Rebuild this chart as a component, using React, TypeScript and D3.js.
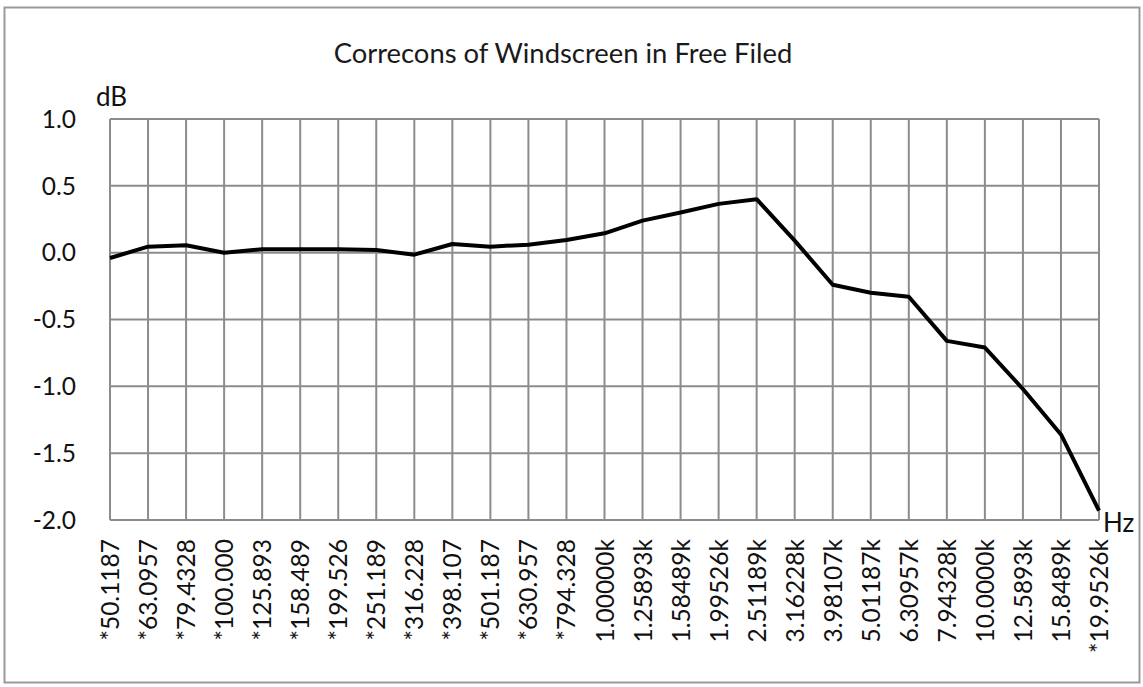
import { useEffect, useRef } from 'react';
import * as d3 from 'd3';

const frequencies = [
  '*50.1187', '*63.0957', '*79.4328', '*100.000', '*125.893', '*158.489', '*199.526',
  '*251.189', '*316.228', '*398.107', '*501.187', '*630.957', '*794.328', '1.00000k',
  '1.25893k', '1.58489k', '1.99526k', '2.51189k', '3.16228k', '3.98107k', '5.01187k',
  '6.30957k', '7.94328k', '10.0000k', '12.5893k', '15.8489k', '*19.9526k',
];

const corrections = [
  -0.04, 0.045, 0.055, 0.0, 0.025, 0.025, 0.025,
  0.02, -0.015, 0.065, 0.045, 0.06, 0.095, 0.145,
  0.24, 0.3, 0.365, 0.4, 0.09, -0.24, -0.3,
  -0.33, -0.66, -0.71, -1.02, -1.36, -1.93,
];

const yTicks = [1.0, 0.5, 0.0, -0.5, -1.0, -1.5, -2.0];

const W = 1143;
const H = 687;
const FONT = 'Lato, "Open Sans", sans-serif';

export default function App() {
  const svgRef = useRef<SVGSVGElement>(null);

  useEffect(() => {
    if (!svgRef.current) return;
    const svg = d3.select(svgRef.current);
    svg.selectAll('*').remove();

    const left = 110, right = 1099, top = 119, bottom = 520;

    const x = d3.scalePoint<string>().domain(frequencies).range([left, right]);
    const y = d3.scaleLinear().domain([-2, 1]).range([bottom, top]);

    svg.append('rect').attr('width', W).attr('height', H).attr('fill', '#fff');

    // outer frame
    svg.append('rect')
      .attr('x', 4.5).attr('y', 7.5).attr('width', 1135).attr('height', 675)
      .attr('fill', 'none').attr('stroke', '#9a9a9a').attr('stroke-width', 2);

    svg.append('text')
      .attr('x', 563).attr('y', 63)
      .attr('text-anchor', 'middle')
      .style('font-family', FONT).style('font-size', '27.4px').style('fill', '#1a1a1a')
      .text('Correcons of Windscreen in Free Filed');

    // grid
    const grid = svg.append('g').attr('stroke', '#8c8c8c').attr('stroke-width', 2);
    grid.selectAll('line.v').data(frequencies).enter().append('line')
      .attr('class', 'v')
      .attr('x1', d => x(d) as number).attr('x2', d => x(d) as number)
      .attr('y1', top).attr('y2', bottom);
    grid.selectAll('line.h').data(yTicks).enter().append('line')
      .attr('class', 'h')
      .attr('x1', left).attr('x2', right)
      .attr('y1', d => y(d)).attr('y2', d => y(d));

    // y tick labels
    svg.append('g').selectAll('text').data(yTicks).enter().append('text')
      .attr('x', 76).attr('y', d => y(d))
      .attr('dy', '0.36em')
      .attr('text-anchor', 'end')
      .style('font-family', FONT).style('font-size', '24.5px').style('fill', '#111')
      .text(d => d.toFixed(1));

    svg.append('text')
      .attr('x', 96).attr('y', 106)
      .style('font-family', FONT).style('font-size', '26px').style('fill', '#111')
      .text('dB');

    svg.append('text')
      .attr('x', 1103).attr('y', 532)
      .style('font-family', FONT).style('font-size', '26px').style('fill', '#111')
      .text('Hz');

    // x category labels
    svg.append('g').selectAll('text').data(frequencies).enter().append('text')
      .attr('transform', d => `translate(${(x(d) as number) + 9},539) rotate(-90)`)
      .attr('text-anchor', 'end')
      .style('font-family', FONT).style('font-size', '24.5px').style('fill', '#111')
      .text(d => d);

    // line
    const line = d3.line<number>()
      .x((_, i) => x(frequencies[i]) as number)
      .y(d => y(d));
    svg.append('path')
      .datum(corrections)
      .attr('d', line)
      .attr('fill', 'none')
      .attr('stroke', '#000')
      .attr('stroke-width', 4)
      .attr('stroke-linejoin', 'round');
  }, []);

  return (
    <svg
      ref={svgRef}
      width={W}
      height={H}
      style={{ position: 'absolute', left: 0, top: 0, display: 'block' }}
    />
  );
}
